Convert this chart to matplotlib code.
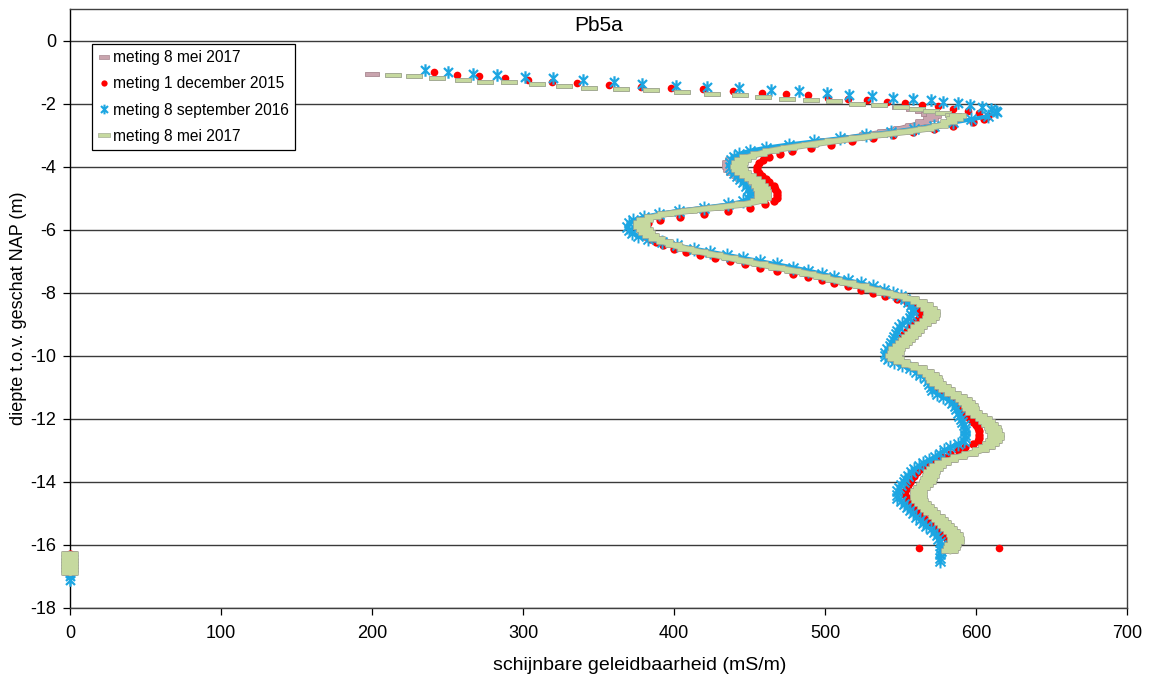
import numpy as np
import matplotlib
matplotlib.use("Agg")
import matplotlib.pyplot as plt
from matplotlib.lines import Line2D
from matplotlib.path import Path

plt.rcParams['font.family'] = ['Liberation Sans', 'DejaVu Sans']
plt.rcParams['axes.unicode_minus'] = False

title = "Pb5a"
x_label = "schijnbare geleidbaarheid (mS/m)"
y_label = "diepte t.o.v. geschat NAP (m)"
series_labels = ["meting 8 mei 2017", "meting 1 december 2015",
                 "meting 8 september 2016", "meting 8 mei 2017"]
x_ticks = [0, 100, 200, 300, 400, 500, 600, 700]
y_ticks = [0, -2, -4, -6, -8, -10, -12, -14, -16, -18]

# Sparse readings near the top of the borehole (value, depth)
mei_a_top_val = [200, 214, 228, 243, 260, 275, 291, 309, 327, 344, 365, 385, 405,
                 425, 444, 459, 475, 491, 506, 521, 536, 549, 558, 564, 568]
mei_a_top_depth = [-1.05, -1.08, -1.14, -1.20, -1.24, -1.30, -1.33, -1.39, -1.43,
                   -1.49, -1.53, -1.58, -1.64, -1.69, -1.74, -1.80, -1.85, -1.88,
                   -1.93, -2.00, -2.06, -2.11, -2.18, -2.25, -2.32]

dec_top_val = [241, 256, 271, 288, 303, 319, 336, 357, 378, 398, 419, 439, 458,
               474, 489, 502, 515, 528, 541, 553, 564, 575, 585, 595, 602]
dec_top_depth = [-1.01, -1.08, -1.14, -1.20, -1.24, -1.30, -1.36, -1.41, -1.46,
                 -1.50, -1.55, -1.61, -1.66, -1.70, -1.74, -1.82, -1.87, -1.90,
                 -1.95, -1.99, -2.03, -2.09, -2.16, -2.22, -2.30]

sep_top_val = [235, 250, 267, 283, 301, 320, 340, 360, 379, 401, 422, 443, 464,
               483, 501, 516, 531, 545, 558, 570, 578, 588, 596, 604, 610, 613, 614]
sep_top_depth = [-0.95, -1.00, -1.05, -1.10, -1.15, -1.20, -1.26, -1.32, -1.37,
                 -1.43, -1.47, -1.52, -1.56, -1.61, -1.67, -1.72, -1.77, -1.81,
                 -1.85, -1.90, -1.95, -1.99, -2.05, -2.11, -2.17, -2.23, -2.28]

mei_b_top_val = [214, 228, 243, 260, 275, 291, 309, 327, 344, 365, 385, 405, 425,
                 444, 459, 475, 491, 506, 521, 536, 550, 561, 570, 578, 585]
mei_b_top_depth = [-1.08, -1.14, -1.20, -1.24, -1.30, -1.33, -1.39, -1.43, -1.49,
                   -1.53, -1.58, -1.64, -1.69, -1.74, -1.80, -1.85, -1.88, -1.93,
                   -2.00, -2.06, -2.11, -2.18, -2.25, -2.30, -2.35]

# Continuous log, one reading every 0.1 m starting at -2.4 m
DENSE_START = -2.4
DENSE_STEP = 0.1

mei_a_val = [572, 570, 565, 558, 550, 540, 528, 515, 501, 487, 473, 460, 450, 443, 439, 437, 437,
             438, 440, 443, 446, 449, 452, 454, 455, 455, 455, 452, 442, 426, 408, 394, 385, 380, 378, 378, 380,
             382, 385, 389, 394, 400, 408, 417, 427, 437, 447, 457, 468, 479, 489, 498, 506, 515, 524, 532, 540,
             549, 557, 562, 566, 569, 571, 571, 570, 568, 565, 562, 560, 558, 556, 554, 552, 550, 548, 547, 546,
             547, 551, 556, 562, 567, 570, 572, 573, 575, 578, 581, 585, 589, 592, 594, 596, 597, 599, 602, 605,
             607, 609, 611, 612, 613, 613, 612, 610, 607, 603, 596, 589, 583, 578, 575, 573, 571, 570, 569, 568,
             566, 564, 562, 562, 562, 563, 565, 567, 569, 571, 574, 576, 578, 580, 582, 584, 586, 587, 587, 585,
             584, 583]

dec_val = [608, 605, 598, 585, 572, 558, 545, 532, 518, 504, 491, 478, 470, 463, 459, 456, 455,
           455, 456, 458, 461, 463, 466, 467, 468, 468, 468, 466, 460, 450, 436, 420, 404, 391, 383, 379, 378,
           379, 381, 384, 388, 393, 400, 408, 417, 427, 437, 447, 457, 468, 479, 489, 498, 506, 515, 524, 532,
           540, 548, 554, 558, 561, 563, 563, 562, 560, 558, 556, 554, 552, 551, 550, 549, 547, 546, 545, 544,
           546, 550, 554, 559, 563, 566, 568, 570, 571, 573, 575, 578, 582, 585, 587, 589, 590, 592, 594, 596,
           598, 600, 601, 602, 602, 602, 601, 598, 593, 588, 583, 578, 574, 570, 566, 563, 561, 559, 557, 556,
           555, 554, 553, 553, 554, 555, 557, 559, 561, 563, 565, 567, 569, 571, 573, 575, 578, 581, 583, 583]

sep_val = [608, 597, 585, 572, 559, 544, 527, 510, 493, 476, 461, 450, 443, 440, 438, 437, 437,
           438, 440, 442, 444, 446, 448, 449, 450, 450, 449, 446, 436, 420, 403, 390, 380, 373, 370, 369, 370,
           372, 376, 383, 392, 402, 413, 424, 435, 446, 457, 468, 479, 489, 498, 506, 515, 524, 532, 539, 545,
           550, 553, 555, 557, 558, 558, 557, 556, 554, 551, 549, 548, 547, 546, 545, 544, 543, 541, 540, 540,
           542, 546, 551, 556, 560, 563, 566, 568, 569, 570, 571, 574, 578, 582, 584, 586, 587, 588, 589, 590,
           591, 592, 593, 593, 593, 593, 592, 588, 583, 579, 576, 573, 569, 565, 562, 559, 557, 555, 553, 552,
           550, 549, 548, 548, 548, 550, 552, 554, 556, 558, 560, 563, 565, 567, 570, 572, 574, 575, 576, 577,
           577, 577, 576, 576, 576]

mei_b_val = [588, 586, 582, 576, 567, 553, 536, 521, 505, 490, 476, 464, 456, 449, 446, 444, 443,
             444, 446, 449, 452, 455, 457, 458, 459, 459, 459, 456, 446, 428, 410, 395, 386, 381, 379, 379, 381,
             382, 385, 389, 394, 400, 408, 417, 427, 437, 447, 457, 468, 479, 489, 498, 506, 515, 524, 532, 540,
             549, 557, 562, 566, 569, 571, 571, 570, 568, 565, 562, 560, 558, 556, 554, 552, 550, 548, 547, 546,
             547, 551, 556, 562, 567, 570, 572, 573, 575, 578, 581, 585, 589, 592, 594, 596, 597, 599, 602, 605,
             607, 609, 611, 612, 613, 613, 612, 610, 607, 603, 596, 589, 583, 578, 575, 573, 571, 570, 569, 568,
             566, 564, 562, 562, 562, 563, 565, 567, 569, 571, 574, 576, 578, 580, 582, 584, 586, 587, 587, 585,
             584, 583]

# Readings logged with the probe out of the ground (value 0)
mei_a_tail_val = [0, 0, 0, 0, 0, 0, 0]
mei_a_tail_depth = [-16.3, -16.4, -16.5, -16.6, -16.7, -16.8, -16.9]
dec_tail_val = [0, 0, 0, 0, 0, 0, 0]
dec_tail_depth = [-16.3, -16.4, -16.5, -16.6, -16.7, -16.8, -16.9]
sep_tail_val = [0, 0, 0, 0, 0]
sep_tail_depth = [-16.7, -16.8, -16.9, -17.0, -17.1]
mei_b_tail_val = [0, 0, 0, 0, 0, 0, 0]
mei_b_tail_depth = [-16.3, -16.4, -16.5, -16.6, -16.7, -16.8, -16.9]

# Isolated readings at the bottom of the 2015 log
dec_extra_val = [562, 615]
dec_extra_depth = [-16.1, -16.1]


def dense_depth(values):
    return np.round(DENSE_START - DENSE_STEP * np.arange(len(values)), 2)


dash = Path([(-1, -0.32), (1, -0.32), (1, 0.32), (-1, 0.32), (-1, -0.32)], closed=True)
star = Path([(0, -1), (0, 1), (-0.72, -0.72), (0.72, 0.72), (-0.72, 0.72), (0.72, -0.72)],
            [Path.MOVETO, Path.LINETO, Path.MOVETO, Path.LINETO, Path.MOVETO, Path.LINETO])

MAUVE_F, MAUVE_E = '#C9A4AE', '#A88790'
RED = '#FF0000'
BLUE = '#1CA6E2'
GREEN_F, GREEN_E = '#C6D99F', '#A4AC94'


def dash_band(ax, vals, depths, fill, edge, ms, lw, z, clip=True):
    """Dash markers merged into one band: an outline pass, then a fill pass."""
    ax.plot(vals, depths, color=edge, lw=lw + 1.2, marker=dash, ms=ms,
            mfc=edge, mec=edge, mew=1.2, solid_joinstyle='round',
            solid_capstyle='round', zorder=z, clip_on=clip)
    ax.plot(vals, depths, color=fill, lw=lw, marker=dash, ms=ms,
            mfc=fill, mec=fill, mew=0.0, solid_joinstyle='round',
            solid_capstyle='round', zorder=z, clip_on=clip)


fig = plt.figure(figsize=(11.53, 6.87), dpi=100)
ax = fig.add_axes([70 / 1153, 79 / 687, 1057 / 1153, 599 / 687])

# --- 8 mei 2017 (first copy, drawn underneath)
ax.plot(mei_a_top_val, mei_a_top_depth, ls='none', marker=dash, ms=10,
        mfc=MAUVE_F, mec=MAUVE_E, mew=0.6, zorder=3)
dash_band(ax, mei_a_val, dense_depth(mei_a_val), MAUVE_F, MAUVE_E, 10, 3.0, 3)
dash_band(ax, mei_a_tail_val, mei_a_tail_depth, MAUVE_F, MAUVE_E, 10, 3.0, 3, clip=False)

# --- 1 december 2015
ax.plot(dec_top_val, dec_top_depth, ls='none', marker='o', ms=5.5,
        mfc=RED, mec=RED, mew=0, zorder=4)
ax.plot(dec_val, dense_depth(dec_val), ls='none', marker='o', ms=6,
        mfc=RED, mec=RED, mew=0, zorder=4)
ax.plot(dec_tail_val, dec_tail_depth, ls='none', marker='o', ms=6,
        mfc=RED, mec=RED, mew=0, zorder=4, clip_on=False)
ax.plot(dec_extra_val, dec_extra_depth, ls='none', marker='o', ms=5.5,
        mfc=RED, mec=RED, mew=0, zorder=4)

# --- 8 september 2016
ax.plot(sep_top_val, sep_top_depth, ls='none', marker=star, ms=9,
        mfc='none', mec=BLUE, mew=1.6, zorder=5)
ax.plot(sep_val, dense_depth(sep_val), color=BLUE, lw=3,
        solid_joinstyle='round', solid_capstyle='round', zorder=5)
ax.plot(sep_val, dense_depth(sep_val), ls='none', marker=star, ms=10,
        mfc='none', mec=BLUE, mew=1.4, zorder=5)
ax.plot(sep_tail_val, sep_tail_depth, ls='none', marker=star, ms=9,
        mfc='none', mec=BLUE, mew=1.6, zorder=5, clip_on=False)

# --- 8 mei 2017 (second copy, on top)
ax.plot(mei_b_top_val, mei_b_top_depth, ls='none', marker=dash, ms=11,
        mfc=GREEN_F, mec=GREEN_E, mew=0.7, zorder=6)
dash_band(ax, mei_b_val, dense_depth(mei_b_val), GREEN_F, GREEN_E, 11, 3.4, 6)
dash_band(ax, mei_b_tail_val, mei_b_tail_depth, GREEN_F, GREEN_E, 11, 3.4, 6, clip=False)

ax.set_xlim(0, 700)
ax.set_ylim(-18, 1)
ax.set_xticks(x_ticks)
ax.set_yticks(y_ticks)
ax.set_xticklabels([str(v) for v in x_ticks])
ax.set_yticklabels([str(v) for v in y_ticks])
ax.yaxis.grid(True, color='#3a3a3a', lw=1.0)
ax.set_axisbelow(True)
for side in ['top', 'right', 'bottom']:
    ax.spines[side].set_color('#404040')
    ax.spines[side].set_linewidth(1.0)
ax.spines['left'].set_color('black')
ax.spines['left'].set_linewidth(1.0)
ax.tick_params(axis='both', direction='out', length=5, width=0.9, labelsize=13,
               colors='black')
ax.tick_params(axis='y', pad=5)
ax.tick_params(axis='x', pad=7)

ax.text(0.5, 0.973, title, transform=ax.transAxes, ha='center', va='center',
        fontsize=15)
fig.text(640 / 1153, 1 - 665 / 687, x_label, ha='center', va='center', fontsize=14)
fig.text(19 / 1153, 1 - 308 / 687, y_label, ha='center', va='center',
         rotation=90, fontsize=13)

legend_styles = [
    dict(marker=dash, ms=7, mfc=MAUVE_F, mec=MAUVE_E, mew=0.5),
    dict(marker='o', ms=4.5, mfc=RED, mec=RED, mew=0.0),
    dict(marker=star, ms=7, mfc='none', mec=BLUE, mew=1.5),
    dict(marker=dash, ms=8, mfc=GREEN_F, mec=GREEN_E, mew=0.5),
]
handles = [Line2D([], [], ls='none', **s) for s in legend_styles]
leg = ax.legend(handles, series_labels, loc='upper left',
                bbox_to_anchor=(22 / 1057, 1 - 35 / 599), fontsize=11.2,
                frameon=True, fancybox=False, edgecolor='black', framealpha=1,
                handlelength=0.7, handletextpad=0.25, borderpad=0.4,
                labelspacing=0.72, borderaxespad=0)
leg.get_frame().set_linewidth(0.9)
leg.set_zorder(10)

fig.savefig('out.png', dpi=100)
